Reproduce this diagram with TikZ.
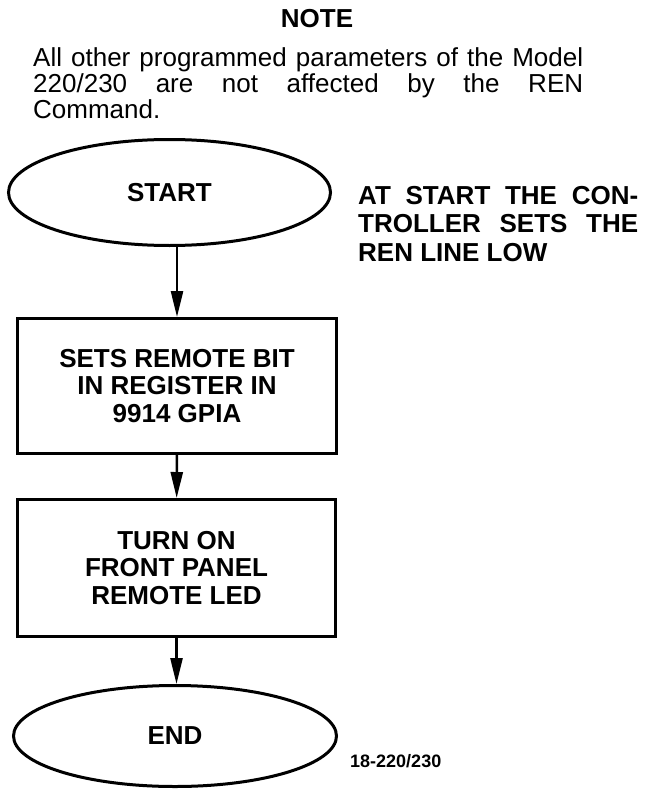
\documentclass[tikz,border=0pt]{standalone}
\usepackage{fontspec}
\setmainfont{Liberation Sans}
\usetikzlibrary{shapes.geometric,arrows.meta}
\newcommand{\flowfont}{\bfseries\fontsize{26}{27.5}\selectfont}
\tikzset{
  stepbox/.style={draw, line width=3pt, inner sep=0pt, align=center, font=\flowfont},
  terminal/.style={draw, ellipse, line width=3pt, inner sep=0pt, font=\flowfont},
}

\begin{document}
\begin{tikzpicture}[x=1pt, y=-1pt, >={Triangle[length=26pt,width=12pt]}]
	\useasboundingbox (0,0) rectangle (653,789);
	\node[anchor=base, font=\bfseries\fontsize{26}{28}\selectfont] (note) at (317,28) {NOTE};
	\node[anchor=base west, inner sep=0pt, text width=550pt, align=justify, font=\fontsize{26}{26}\selectfont] (notetext) at (33,67)
		{All other programmed parameters of the Model\linebreak 220/230 are not affected by the REN\linebreak Command.};
	\node[terminal, minimum width=322pt, minimum height=106pt] (start) at (169.5,192.5) {START};
	\node[stepbox, minimum width=319pt, minimum height=135pt] (sets) at (177,386) {SETS REMOTE BIT\\IN REGISTER IN\\9914 GPIA};
	\node[stepbox, minimum width=318pt, minimum height=137pt] (turnon) at (176.5,568) {TURN ON\\FRONT PANEL\\REMOTE LED};
	\node[terminal, minimum width=323pt, minimum height=101pt] (stop) at (175,736) {END};
	\node[anchor=base west, inner sep=0pt, text width=280pt, align=justify, font=\flowfont\linespread{1}\fontsize{26}{28.5}\selectfont] (remark) at (358,204)
		{AT START THE CON-\linebreak TROLLER SETS THE\linebreak REN LINE LOW};
	\node[anchor=base west, inner sep=0pt, font=\bfseries\fontsize{18}{18}\selectfont] (figno) at (350,767) {18-220/230};
	\path[->, line width=2.5pt]
		(start.south -| sets.north) edge (sets.north)
		(sets) edge (turnon)
		(turnon.south) edge (turnon.south |- stop.north);
\end{tikzpicture}
\end{document}
